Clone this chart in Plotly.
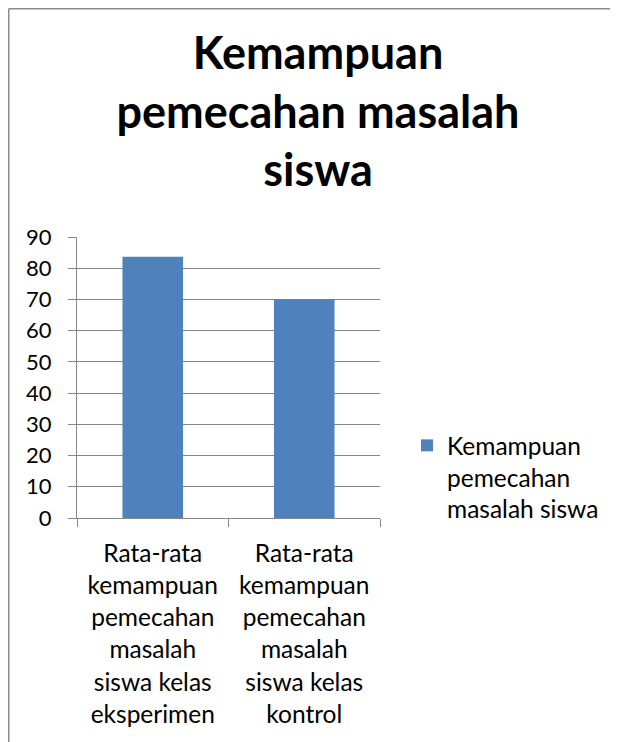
import plotly.graph_objects as go

categories = [
    "Rata-rata kemampuan pemecahan masalah siswa kelas eksperimen",
    "Rata-rata kemampuan pemecahan masalah siswa kelas kontrol",
]
tick_lines = [
    ["Rata-rata", "kemampuan", "pemecahan", "masalah", "siswa kelas", "eksperimen"],
    ["Rata-rata", "kemampuan", "pemecahan", "masalah", "siswa kelas", "kontrol"],
]
values = [83.7, 70]
series_name = "Kemampuan pemecahan masalah siswa"
legend_lines = ["Kemampuan", "pemecahan", "masalah siswa"]
title_lines = ["Kemampuan", "pemecahan masalah", "siswa"]
y_ticks = list(range(0, 91, 10))

FONT = "Lato"
GRID = "#868686"
W, H = 610, 734          # page body has an 8px margin
L, T, R, B = 69, 229, 238, 224
PW, PH = W - L - R, H - T - B


def spanned(lines, px):
    return "<br>".join(f"<span style='font-size:{px}px'>{l}</span>" for l in lines)


fig = go.Figure()
fig.add_trace(go.Bar(
    x=categories, y=values, name=spanned(legend_lines, 24.5),
    marker=dict(color="#4F81BD", line=dict(width=0)),
    showlegend=True,
))

fig.update_layout(
    width=W, height=H,
    paper_bgcolor="white", plot_bgcolor="white",
    margin=dict(l=L, r=R, t=T, b=B, autoexpand=False),
    font=dict(family=FONT, color="black"),
    bargap=0.6,
    title=dict(
        text="<br>".join(title_lines),
        font=dict(family=FONT, size=45, color="black", weight="bold"),
        x=310 / W, xanchor="center", xref="container",
        y=1 - 61 / H, yanchor="top", yref="container",
    ),
    legend=dict(
        x=(399 - L) / PW, xanchor="left", y=(H - B - 415) / PH, yanchor="top",
        font=dict(family=FONT, size=24.4, color="black"),
        valign="top", bgcolor="rgba(0,0,0,0)",
    ),
    showlegend=True,
)

fig.update_yaxes(
    range=[0, 90], tickvals=y_ticks, showgrid=True, gridcolor=GRID, gridwidth=1,
    showline=True, linecolor=GRID, linewidth=1, ticks="outside", ticklen=8,
    tickcolor=GRID, tickfont=dict(family=FONT, size=22, color="black"),
    ticklabelstandoff=12, zeroline=False,
)
fig.update_xaxes(
    type="category", tickvals=categories,
    ticktext=[spanned(t, 24.5) for t in tick_lines],
    showline=True, linecolor=GRID, linewidth=1, ticks="outside", ticklen=8,
    tickcolor=GRID, tickson="boundaries", tickangle=0,
    tickfont=dict(family=FONT, size=24.8, color="black"),
    ticklabelstandoff=13,
)

# outer chart border (top and left edges)
bx0 = (0.75 - L) / PW
by0 = (H - B - 0.75) / PH
fig.add_shape(type="line", xref="paper", yref="paper",
              x0=bx0, x1=(602 - L) / PW, y0=by0, y1=by0,
              line=dict(color="#8c8c8c", width=1.5))
fig.add_shape(type="line", xref="paper", yref="paper",
              x0=bx0, x1=bx0, y0=by0, y1=(H - B - H - 5) / PH,
              line=dict(color="#8c8c8c", width=1.5))

fig.write_html("out.html")
